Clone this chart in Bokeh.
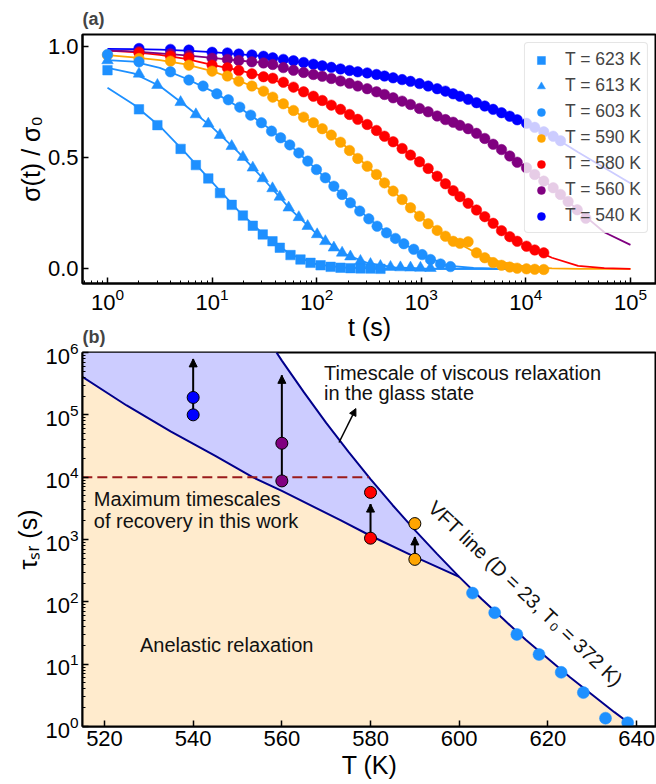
import numpy as np
from bokeh.plotting import figure
from bokeh.layouts import column
from bokeh.models import (Legend, LegendItem, Label, Arrow, NormalHead,
                          FixedTicker, PrintfTickFormatter)
from bokeh.embed import file_html
from bokeh.resources import INLINE

FONT = "Liberation Sans"

# ---------------- panel (a) data ----------------
labels_a = ["T = 623 K", "T = 613 K", "T = 603 K", "T = 590 K",
            "T = 580 K", "T = 560 K", "T = 540 K"]
colors_a = ["#1E90FF", "#1E90FF", "#1E90FF", "#FFA500",
            "#FF0000", "#800080", "#0000FF"]
markers_a = ["square", "triangle", "circle", "circle",
             "circle", "circle", "circle"]

t_623 = [1, 2, 3, 5, 7, 9.2, 11.9, 15.4, 19.7, 24.5, 30.5, 37.8, 44.4,
         56.2, 70, 87.3, 109, 136, 169, 210, 262, 327, 407]
s_623 = [0.894, 0.718, 0.647, 0.540, 0.467, 0.407, 0.341, 0.288, 0.240, 0.194,
         0.155, 0.124, 0.095, 0.062, 0.042, 0.027, 0.016, 0.009, 0.005, 0.003,
         0.002, 0.001, 0.0]

t_613 = [1, 2, 3, 5, 7, 9.2, 11.9, 15.4, 19.7, 24.5, 30.5, 37.8, 44.4, 54,
         67.5, 82, 101, 121, 146, 175, 210, 262, 327, 407, 508, 632, 789, 982, 1225]
s_613 = [0.938, 0.878, 0.827, 0.750, 0.695, 0.653, 0.602, 0.552, 0.503, 0.455,
         0.407, 0.362, 0.324, 0.275, 0.232, 0.192, 0.155, 0.124, 0.095, 0.072,
         0.055, 0.035, 0.021, 0.012, 0.008, 0.006, 0.005, 0.004, 0.003]

t_603 = [1, 2, 4, 6, 8.2, 11.1, 14.3, 18.4, 23.4, 29.6, 37, 45.2, 55.3, 67.5,
         82.2, 99.5, 121, 146, 175, 210, 258, 315, 378, 465, 566, 681, 847,
         1019, 1225, 1528, 1901]
s_603 = [0.965, 0.932, 0.887, 0.850, 0.823, 0.788, 0.761, 0.728, 0.692, 0.658,
         0.620, 0.590, 0.558, 0.522, 0.485, 0.447, 0.410, 0.372, 0.335, 0.297,
         0.260, 0.225, 0.192, 0.162, 0.137, 0.113, 0.088, 0.064, 0.042, 0.022,
         0.010]

t_590 = [1, 2, 4, 6, 10, 14, 18, 24, 31, 38, 48, 60, 75, 93, 113, 138, 169,
         206, 247, 304, 373, 445, 538, 656, 789, 962, 1164, 1419, 1702, 2018,
         2344, 2805, 3373, 4046, 4864, 5848, 7015, 8260, 10140, 12160, 14830]
s_590 = [0.962, 0.947, 0.935, 0.917, 0.890, 0.868, 0.845, 0.823, 0.800, 0.773,
         0.743, 0.713, 0.683, 0.658, 0.631, 0.602, 0.570, 0.533, 0.497, 0.462,
         0.425, 0.387, 0.350, 0.312, 0.275, 0.237, 0.203, 0.173, 0.147, 0.124,
         0.115, 0.122, 0.072, 0.050, 0.028, 0.016, 0.008, 0.003, 0.0, -0.002,
         -0.003]

t_580 = [2, 4, 6, 10, 14, 18, 24, 31, 38, 48, 60, 75, 93, 113, 138, 169, 206,
         247, 304, 373, 445, 538, 656, 789, 962, 1164, 1419, 1702, 2018, 2344,
         2805, 3373, 4046, 4864, 5848, 7015, 8260, 10140, 12160, 14830]
s_580 = [0.973, 0.958, 0.950, 0.917, 0.905, 0.893, 0.878, 0.865, 0.858, 0.840,
         0.818, 0.797, 0.777, 0.758, 0.737, 0.718, 0.695, 0.673, 0.650, 0.623,
         0.597, 0.572, 0.542, 0.512, 0.482, 0.452, 0.417, 0.383, 0.352, 0.325,
         0.295, 0.265, 0.235, 0.205, 0.172, 0.145, 0.124, 0.102, 0.085, 0.072]

t_560 = [2, 4, 6, 10, 14, 18, 24, 31, 38, 48, 60, 75, 93, 113, 138, 169, 206,
         247, 304, 373, 445, 538, 656, 789, 962, 1164, 1419, 1702, 2018, 2344,
         2805, 3373, 4046, 4864, 5848, 7015, 8260, 10140, 12160, 14830, 18240,
         21430, 25350, 30970, 37410]
s_560 = [0.978, 0.968, 0.960, 0.948, 0.943, 0.938, 0.932, 0.927, 0.920, 0.906,
         0.894, 0.884, 0.875, 0.867, 0.857, 0.846, 0.835, 0.823, 0.811, 0.797,
         0.785, 0.770, 0.755, 0.740, 0.722, 0.707, 0.688, 0.672, 0.660, 0.646,
         0.631, 0.610, 0.587, 0.561, 0.537, 0.508, 0.480, 0.455, 0.425, 0.395,
         0.365, 0.335, 0.303, 0.266, 0.228]

t_540 = [2, 4, 6, 10, 14, 18, 24, 31, 38, 48, 60, 75, 93, 113, 138, 169, 206,
         247, 304, 373, 445, 538, 656, 789, 962, 1164, 1419, 1702, 2018, 2344,
         2805, 3373, 4046, 4864, 5848, 7015, 8260, 10140, 12160, 14830, 18240,
         21430]
s_540 = [0.992, 0.988, 0.985, 0.975, 0.972, 0.967, 0.963, 0.957, 0.950, 0.943,
         0.937, 0.929, 0.921, 0.914, 0.907, 0.900, 0.893, 0.887, 0.882, 0.875,
         0.868, 0.860, 0.852, 0.844, 0.834, 0.823, 0.811, 0.800, 0.788, 0.777,
         0.763, 0.748, 0.733, 0.718, 0.703, 0.687, 0.671, 0.655, 0.637, 0.617,
         0.597, 0.577]

# fitted curves
fit_t = [1, 1.778, 3.162, 5.623, 10, 17.78, 31.62, 56.23, 100, 177.8, 316.2,
         562.3, 1000, 1778, 3162, 5623, 10000, 17783, 31623, 56234, 100000]
fit_623 = [0.815, 0.740, 0.642, 0.520, 0.390, 0.262, 0.152, 0.065, 0.020,
           0.006, 0.002, 0.001, 0.0, 0.0, 0.0, 0.0, 0.0]
fit_613 = [0.905, 0.880, 0.823, 0.733, 0.638, 0.525, 0.400, 0.268, 0.157,
           0.070, 0.024, 0.007, 0.002, 0.0, 0.0, 0.0, 0.0]
fit_603 = [0.940, 0.933, 0.905, 0.857, 0.800, 0.730, 0.648, 0.555, 0.447,
           0.332, 0.225, 0.137, 0.067, 0.014, 0.004, 0.001, 0.0]
fit_590 = [0.962, 0.952, 0.940, 0.920, 0.890, 0.848, 0.800, 0.720, 0.648,
           0.562, 0.455, 0.342, 0.230, 0.142, 0.078, 0.032, 0.010, 0.002,
           0.0, 0.0, 0.0]
fit_580 = [0.983, 0.976, 0.963, 0.945, 0.918, 0.895, 0.866, 0.822, 0.767,
           0.712, 0.645, 0.565, 0.476, 0.376, 0.275, 0.180, 0.102, 0.050,
           0.013, 0.003, 0.0]
fit_560 = [0.983, 0.979, 0.970, 0.961, 0.950, 0.938, 0.927, 0.897, 0.872,
           0.843, 0.808, 0.766, 0.719, 0.669, 0.617, 0.542, 0.456, 0.369,
           0.263, 0.165, 0.108]
fit_540 = [0.990, 0.989, 0.987, 0.982, 0.976, 0.967, 0.957, 0.939, 0.917,
           0.898, 0.882, 0.858, 0.832, 0.797, 0.750, 0.706, 0.656, 0.598,
           0.525, 0.455, 0.385]

series_t = [t_623, t_613, t_603, t_590, t_580, t_560, t_540]
series_s = [s_623, s_613, s_603, s_590, s_580, s_560, s_540]
series_fit = [fit_623, fit_613, fit_603, fit_590, fit_580, fit_560, fit_540]

# ---------------- panel (b) data ----------------
T_arrow = [540, 560, 580, 590]
tau_low = [1.0e5, 8.7e3, 1.05e3, 4.8e2]
tau_up = [1.9e5, 3.5e4, 5.7e3, 1.8e3]
tau_tip = [7.9e5, 4.3e5, 3.7e3, 1.1e3]
col_arrow = ["#0000FF", "#800080", "#FF0000", "#FFA500"]

T_hot = [603, 608, 613, 618, 623, 628, 633, 638]
tau_hot = [138, 67, 30, 14.3, 7.4, 3.5, 1.36, 1.15]

vft_T = [558.8, 560, 565, 570, 575, 580, 585, 590, 595, 600, 605, 610, 615,
         620, 625, 630, 635, 638.6]
vft_log = [6.0, 5.87, 5.36, 4.87, 4.41, 3.97, 3.55, 3.15, 2.77, 2.40, 2.05,
           1.72, 1.39, 1.09, 0.79, 0.51, 0.23, 0.04]
low_T = [515, 525, 535, 545, 553.4, 560, 573.2, 580, 590, 600]
low_log = [5.61, 5.15, 4.73, 4.34, 4.0, 3.78, 3.31, 3.06, 2.72, 2.40]

max_T = [515, 579.6]
max_tau = [1e4, 1e4]

vft_tau = [10 ** v for v in vft_log]
low_tau = [10 ** v for v in low_log]

# ---------------- styling helpers ----------------
def style(p):
    p.outline_line_color = "black"
    p.outline_line_width = 2
    p.xgrid.visible = False
    p.ygrid.visible = False
    p.background_fill_color = "white"
    p.border_fill_color = "white"
    for ax in (p.xaxis[0], p.yaxis[0]):
        ax.axis_line_width = 2
        ax.axis_line_color = "black"
        ax.major_tick_in = 6
        ax.major_tick_out = 0
        ax.minor_tick_in = 3
        ax.minor_tick_out = 0
        ax.major_tick_line_width = 1.5
        ax.minor_tick_line_width = 1
        ax.major_label_text_font = FONT
        ax.major_label_text_font_size = "22px"
        ax.major_label_text_color = "black"
        ax.major_label_standoff = 4
        ax.axis_label_text_font = FONT
        ax.axis_label_text_font_size = "25px"
        ax.axis_label_text_font_style = "normal"
        ax.axis_label_text_color = "black"
        ax.axis_label_standoff = 0
    p.title.text_font = FONT
    p.title.text_font_size = "18px"
    p.title.text_font_style = "bold"
    p.title.align = "left"
    p.title.offset = 0
    p.title.standoff = 11

W = 656
decades = [1, 10, 100, 1e3, 1e4, 1e5, 1e6]
minors = [k * 10.0 ** d for d in range(-1, 7) for k in range(2, 10)]

# ---------------- panel (a) ----------------
p1 = figure(width=W, height=345, x_axis_type="log", title="(a)",
            x_range=(10 ** -0.239, 10 ** 5.249), y_range=(-0.066, 1.055),
            output_backend="svg", toolbar_location=None,
            min_border_left=82, min_border_right=0,
            min_border_top=34, min_border_bottom=62)
style(p1)
p1.xaxis[0].ticker = FixedTicker(ticks=decades[:6], minor_ticks=minors)
p1.xaxis[0].axis_label = "t (s)"
p1.xaxis[0].axis_label_standoff = 0
p1.yaxis[0].ticker = FixedTicker(ticks=[0, 0.5, 1.0], minor_ticks=[])
p1.yaxis[0].formatter = PrintfTickFormatter(format="%.1f")
p1.yaxis[0].axis_label = "σ(t) / σ₀"

for i in range(7):
    p1.line(fit_t[:len(series_fit[i])], series_fit[i], color=colors_a[i], line_width=1.8)

rend = {}
for i in [6, 5, 4, 3, 2, 1, 0]:
    size = 10.5 if markers_a[i] == "circle" else (9.5 if markers_a[i] == "square" else 11.5)
    rend[i] = p1.scatter(series_t[i], series_s[i], marker=markers_a[i], size=size,
                         fill_color=colors_a[i], line_color=colors_a[i], line_width=0.5)

items = [LegendItem(label=labels_a[i], renderers=[rend[i]]) for i in range(7)]
leg = Legend(items=items, location="top_right", margin=8, padding=6, spacing=5,
             glyph_width=20, glyph_height=20, label_height=20, label_standoff=14,
             label_text_font=FONT, label_text_font_size="17.5px",
             background_fill_color="white", background_fill_alpha=0.8,
             border_line_color="#cccccc", border_line_width=1)
try:
    leg.border_radius = 4
except Exception:
    pass
p1.add_layout(leg)

# ---------------- panel (b) ----------------
p2 = figure(width=W, height=468, y_axis_type="log", title="(b)",
            x_range=(515.04, 644.5), y_range=(1, 1e6),
            output_backend="svg", toolbar_location=None,
            min_border_left=82, min_border_right=0,
            min_border_top=36, min_border_bottom=58)
style(p2)
p2.border_fill_alpha = 0.0
p2.styles = {"margin-top": "-29px"}
p2.xaxis[0].ticker = FixedTicker(ticks=[520, 540, 560, 580, 600, 620, 640], minor_ticks=[])
p2.xaxis[0].major_label_standoff = 4
p2.xaxis[0].axis_label_standoff = 2
p2.yaxis[0].ticker = FixedTicker(ticks=decades, minor_ticks=minors)
p2.xaxis[0].axis_label = "T (K)"
p2.yaxis[0].axis_label = "τₛᵣ (s)"

# filled regions
vft_hot_T = [T for T in vft_T if T > 600]
vft_hot_tau = [vft_tau[k] for k, T in enumerate(vft_T) if T > 600]
or_x = low_T + vft_hot_T + [vft_hot_T[-1], low_T[0]]
or_y = low_tau + vft_hot_tau + [0.5, 0.5]
p2.patch(or_x, or_y, fill_color="#FFEBCD", line_alpha=0)

vft_cold_T = [T for T in vft_T if T < 600]
vft_cold_tau = [vft_tau[k] for k, T in enumerate(vft_T) if T < 600]
bl_x = [low_T[0]] + low_T + vft_cold_T[::-1]
bl_y = [1e6] + low_tau + vft_cold_tau[::-1]
p2.patch(bl_x, bl_y, fill_color="#CCCCFF", line_alpha=0)

p2.line(low_T, low_tau, color="#00008B", line_width=2)
p2.line(vft_T, vft_tau, color="#00008B", line_width=2)
p2.line(max_T, max_tau, color="#9B1B1B", line_width=2, line_dash="10 5")

# arrow shafts (below markers) and heads
p2.segment(T_arrow, tau_low, T_arrow, tau_tip, color="black", line_width=2)
for T, tip in zip(T_arrow, tau_tip):
    p2.add_layout(Arrow(end=NormalHead(size=8, fill_color="black", line_color="black"),
                        x_start=T, y_start=tip / 1.15, x_end=T, y_end=tip,
                        line_alpha=0, line_width=0))

p2.scatter(T_arrow, tau_low, size=12, fill_color=col_arrow, line_color="black", line_width=1)
p2.scatter(T_arrow, tau_up, size=12, fill_color=col_arrow, line_color="black", line_width=1)
p2.scatter(T_hot, tau_hot, size=12, fill_color="#1E90FF", line_color="#1E90FF", line_width=0.5)

p2.add_layout(Arrow(end=NormalHead(size=7, fill_color="black", line_color="black"),
                    x_start=572.9, y_start=3.6e4, x_end=576.7, y_end=1.26e5,
                    line_color="black", line_width=1.5))

def txt(p, x, y, s, size="20px", align="left", angle=0.0):
    p.add_layout(Label(x=x, y=y, text=s, text_font=FONT, text_font_size=size,
                       text_align=align, text_baseline="middle", angle=angle,
                       text_color="#111111"))

txt(p2, 569.5, 10 ** 5.67, "Timescale of viscous relaxation")
txt(p2, 569.5, 10 ** 5.35, "in the glass state")
txt(p2, 517.6, 10 ** 3.655, "Maximum timescales")
txt(p2, 517.6, 10 ** 3.295, "of recovery in this work")
txt(p2, 528.0, 10 ** 1.30, "Anelastic relaxation")
txt(p2, 615.0, 10 ** 2.13, "VFT line (D = 23, T₀ = 372 K)", align="center", angle=-0.759)

layout = column(p1, p2, spacing=0)
open("out.html", "w").write(file_html(layout, INLINE, "plot"))
